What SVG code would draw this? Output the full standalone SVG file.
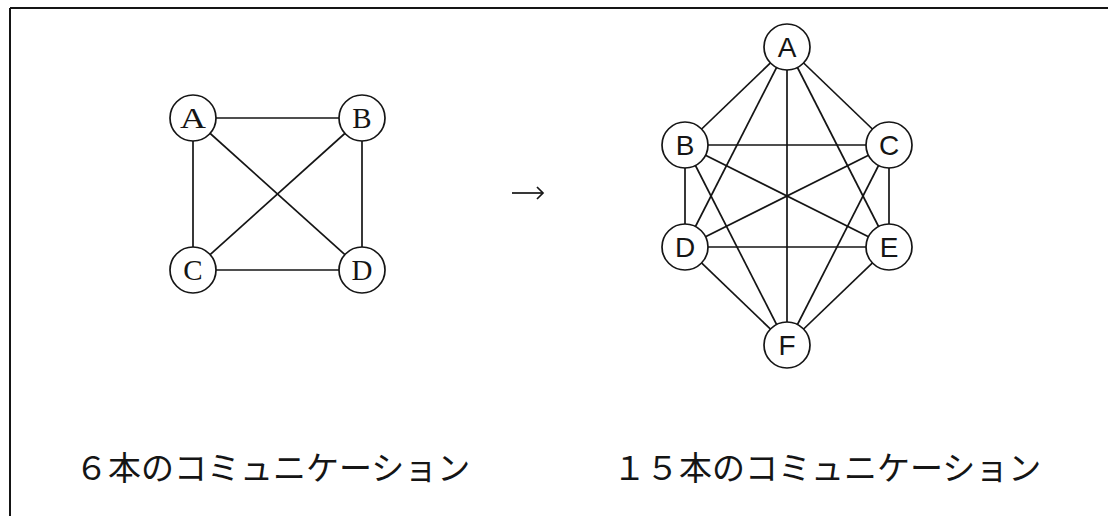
<svg xmlns="http://www.w3.org/2000/svg" width="1108" height="516" viewBox="0 0 1108 516">
  <style>
    .edge { stroke: #151515; stroke-width: 1.7; fill: none; }
    .node circle { fill: #ffffff; stroke: #151515; stroke-width: 1.7; }
    .serif { font-family: "Liberation Serif", "DejaVu Serif", serif; font-size: 29px; fill: #151515; text-anchor: middle; }
    .sans { font-family: "Liberation Sans", Arial, sans-serif; font-size: 28px; fill: #151515; text-anchor: middle; }
    .caption { font-family: "Noto Sans CJK JP", "Noto Sans CJK SC", sans-serif; font-size: 33px; fill: #151515; }
  </style>

  <rect x="0" y="0" width="1108" height="516" fill="#ffffff"/>

  <!-- frame: top and left rules -->
  <g id="frame" stroke="#151515" stroke-width="2">
    <line x1="10" y1="8" x2="1108" y2="8"/>
    <line x1="10" y1="8" x2="10" y2="516"/>
  </g>

  <!-- connectors (drawn centre to centre, circles cover the ends) -->
  <g id="connectors" class="edge">
    <!-- four-node graph -->
    <line x1="193" y1="118" x2="362" y2="118"/>
    <line x1="193" y1="118" x2="193" y2="270"/>
    <line x1="193" y1="118" x2="362" y2="270"/>
    <line x1="362" y1="118" x2="193" y2="270"/>
    <line x1="362" y1="118" x2="362" y2="270"/>
    <line x1="193" y1="270" x2="362" y2="270"/>
    <!-- six-node graph -->
    <line x1="787" y1="47" x2="685" y2="145"/>
    <line x1="787" y1="47" x2="889" y2="145"/>
    <line x1="787" y1="47" x2="685" y2="247"/>
    <line x1="787" y1="47" x2="889" y2="247"/>
    <line x1="787" y1="47" x2="787" y2="345"/>
    <line x1="685" y1="145" x2="889" y2="145"/>
    <line x1="685" y1="145" x2="685" y2="247"/>
    <line x1="685" y1="145" x2="889" y2="247"/>
    <line x1="685" y1="145" x2="787" y2="345"/>
    <line x1="889" y1="145" x2="685" y2="247"/>
    <line x1="889" y1="145" x2="889" y2="247"/>
    <line x1="889" y1="145" x2="787" y2="345"/>
    <line x1="685" y1="247" x2="889" y2="247"/>
    <line x1="685" y1="247" x2="787" y2="345"/>
    <line x1="889" y1="247" x2="787" y2="345"/>
    <!-- arrow between the two graphs -->
    <line x1="512" y1="193" x2="543" y2="193"/>
    <polyline points="537,187 543,193 537,199"/>
  </g>

  <!-- four-node graph -->
  <g id="L-A" class="node"><circle cx="193" cy="118" r="23"/><text class="serif" x="193" y="128" textLength="26" lengthAdjust="spacingAndGlyphs">A</text></g>
  <g id="L-B" class="node"><circle cx="362" cy="118" r="23"/><text class="serif" x="362" y="128">B</text></g>
  <g id="L-C" class="node"><circle cx="193" cy="270" r="23"/><text class="serif" x="193" y="280">C</text></g>
  <g id="L-D" class="node"><circle cx="362" cy="270" r="23"/><text class="serif" x="362" y="280">D</text></g>

  <!-- six-node graph -->
  <g id="R-A" class="node"><circle cx="787" cy="47" r="23"/><text class="sans" x="787" y="57">A</text></g>
  <g id="R-B" class="node"><circle cx="685" cy="145" r="23"/><text class="sans" x="685" y="155">B</text></g>
  <g id="R-C" class="node"><circle cx="889" cy="145" r="23"/><text class="sans" x="889" y="155">C</text></g>
  <g id="R-D" class="node"><circle cx="685" cy="247" r="23"/><text class="sans" x="685" y="257">D</text></g>
  <g id="R-E" class="node"><circle cx="889" cy="247" r="23"/><text class="sans" x="889" y="257">E</text></g>
  <g id="R-F" class="node"><circle cx="787" cy="345" r="23"/><text class="sans" x="787" y="355">F</text></g>

  <!-- captions -->
  <text id="caption-left" class="caption" x="75" y="480">６本のコミュニケーション</text>
  <text id="caption-right" class="caption" x="613" y="480">１５本のコミュニケーション</text>
</svg>
